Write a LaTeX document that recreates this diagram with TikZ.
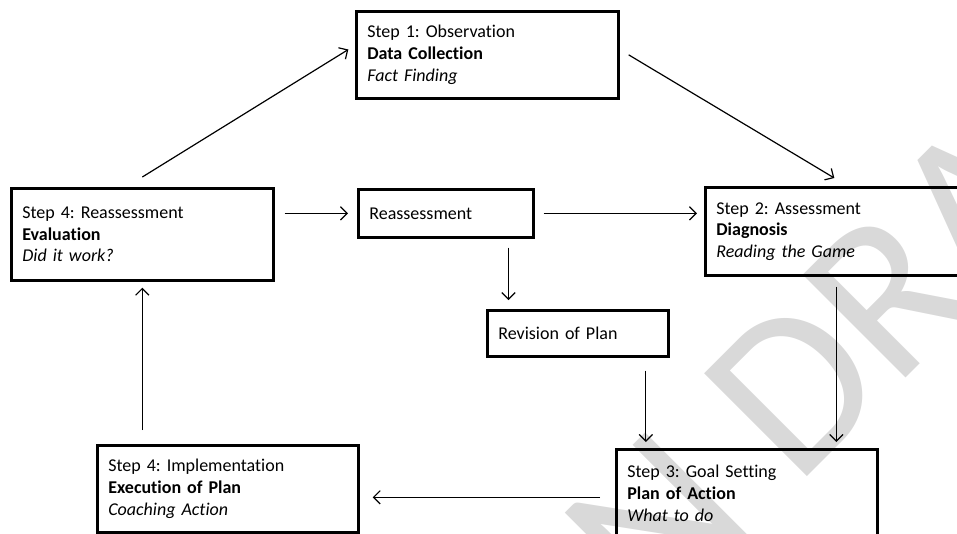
\documentclass[tikz,border=0pt]{standalone}
\usepackage{fontspec}
\setmainfont{Carlito}[Ligatures={NoCommon,NoContextual}]
\usetikzlibrary{arrows.meta}
\definecolor{wmgray}{RGB}{217,217,217}
\tikzset{
  stepbox/.style={draw, line width=2pt, anchor=north west, align=left,
    inner xsep=8.25pt, inner ysep=0pt,
    font=\frenchspacing\fontsize{13.5}{16.2}\selectfont},
  conn/.style={-{Straight Barb[length=5pt,width=10pt]}, line width=0.9pt},
  watermark/.style={text=wmgray, inner sep=0pt, rotate=45,
    font=\fontsize{170}{170}\selectfont}
}
\begin{document}
\begin{tikzpicture}[x=0.75pt, y=-0.75pt]
\useasboundingbox (0,0) rectangle (957,533);
\clip (0,0) rectangle (957,533);

% background watermark
\node[watermark, anchor=base west] (wmb) at (796,488) {DRAFT};
\node[watermark, anchor=base east] (wma) at (760,524) {N};

% boxes
\node[stepbox, text width=180pt, minimum height=65.25pt] (b1) at (355,10)
  {Step 1: Observation\\\textbf{Data Collection}\\\textit{Fact Finding}};
\node[stepbox, text width=180pt, minimum height=69pt] (r4) at (10,187)
  {Step 4: Reassessment\\\textbf{Evaluation}\\\textit{Did it work?}};
\node[stepbox, text width=114.75pt, minimum height=36pt] (ra) at (357,188)
  {Reassessment};
\node[stepbox, text width=183pt, minimum height=66pt] (s2) at (704,186)
  {Step 2: Assessment\\\textbf{Diagnosis}\\\textit{Reading the Game}};
\node[stepbox, text width=119.25pt, minimum height=34.5pt] (rv) at (486,309)
  {Revision of Plan};
\node[stepbox, text width=179.25pt, minimum height=66pt] (s3) at (615,448)
  {Step 3: Goal Setting\\\textbf{Plan of Action}\\\textit{What to do}};
\node[stepbox, text width=179.25pt, minimum height=65.25pt] (im) at (96,444)
  {Step 4: Implementation\\\textbf{Execution of Plan}\\\textit{Coaching Action}};

% connectors
\draw[conn] ([yshift=7.5pt]r4.north) -- ([xshift=-5pt,yshift=4pt]b1.west);
\draw[conn] ([xshift=6.75pt]b1.east) -- ([xshift=-3pt,yshift=6pt]s2.north);
\draw[conn, shorten <=7.5pt, shorten >=6.75pt] (r4.east |- ra.west) -- (ra.west);
\draw[conn, shorten <=6.75pt, shorten >=5.25pt] (ra.east) -- (s2.west |- ra.east);
\coordinate (raS) at ([xshift=47pt]ra.south);
\draw[conn, shorten <=6.75pt, shorten >=6.75pt] (raS) -- (raS |- rv.north);
\coordinate (rvS) at ([xshift=51pt]rv.south);
\draw[conn, shorten <=9.75pt, shorten >=4.5pt] (rvS) -- (rvS |- s3.north);
\coordinate (s2S) at ([xshift=-1.5pt]s2.south);
\draw[conn, shorten <=7.5pt, shorten >=4.5pt] (s2S) -- (s2S |- s3.north);
\coordinate (s3W) at ([yshift=-3pt]s3.west);
\draw[conn, shorten <=11.25pt, shorten >=9.75pt] (s3W) -- (im.east |- s3W);
\draw[conn, shorten <=10.5pt, shorten >=4.5pt] (r4.south |- im.north) -- (r4.south);
\end{tikzpicture}
\end{document}
